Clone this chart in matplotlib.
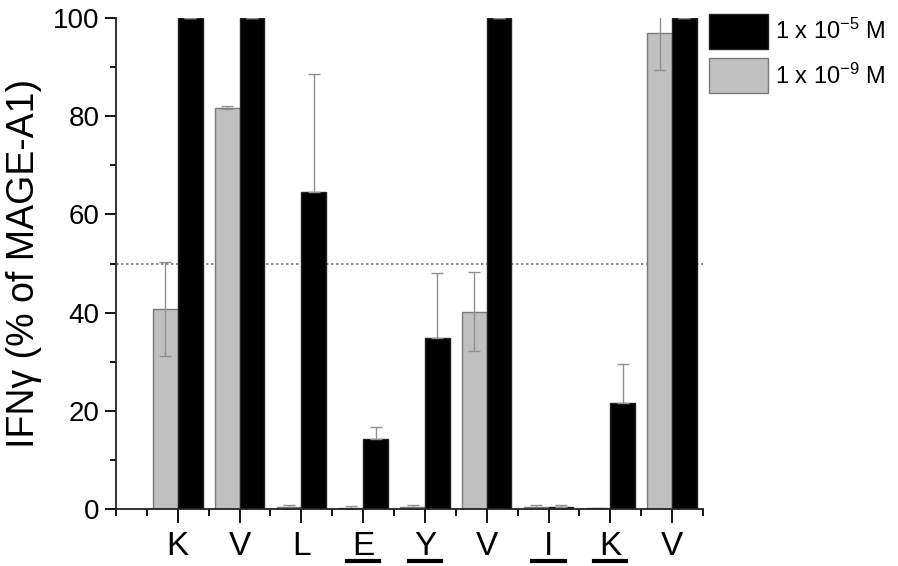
import numpy as np
import matplotlib
matplotlib.use('agg')
from matplotlib import pyplot as plt
from matplotlib.ticker import MultipleLocator

plt.rcParams['font.family'] = ['Liberation Sans', 'DejaVu Sans']
plt.rcParams['mathtext.fontset'] = 'custom'
plt.rcParams['mathtext.rm'] = 'Liberation Sans'
plt.rcParams['mathtext.default'] = 'regular'

residues = ['K', 'V', 'L', 'E', 'Y', 'V', 'I', 'K', 'V']
underlined = [False, False, False, True, True, False, True, True, False]

high_conc = [100, 100, 64.5, 14.2, 34.8, 100, 0.5, 21.6, 100]     # 1 x 10^-5 M
high_err = [0, 0, 24.1, 2.6, 13.2, 0, 0.3, 7.9, 0]
low_conc = [40.8, 81.7, 0.5, 0.3, 0.5, 40.2, 0.5, 0.2, 96.9]      # 1 x 10^-9 M
low_err = [9.6, 0.3, 0.4, 0.3, 0.4, 8.0, 0.3, 0.1, 7.5]

fig = plt.figure(figsize=(8.98, 5.66), dpi=100)
ax = fig.add_axes([116 / 898, 1 - 509 / 566, (703 - 116) / 898, (509 - 18) / 566])

x = np.arange(1, len(residues) + 1)
w = 0.4
err_kw = dict(ecolor='#909090', elinewidth=1.0, capsize=4, capthick=1.0)

ax.axhline(50, color='#777777', lw=1.2, ls=(0, (1.5, 1.5)), zorder=1)

ax.bar(x - w / 2, low_conc, w, color='#c0c0c0', edgecolor='#7a7a7a', lw=1,
       yerr=low_err, error_kw=err_kw, label='1 x 10$^{-9}$ M', zorder=2)
ax.bar(x + w / 2, high_conc, w, color='black', edgecolor='#222222', lw=1,
       yerr=[np.zeros(len(high_err)), high_err], error_kw=err_kw,
       label='1 x 10$^{-5}$ M', zorder=2)

ax.set_xlim(0, 9.5)
ax.set_ylim(0, 100)
ax.spines['top'].set_visible(False)
ax.spines['right'].set_visible(False)
for s in ('left', 'bottom'):
    ax.spines[s].set_linewidth(1.3)
    ax.spines[s].set_color('#222222')

ax.set_xticks(x)
ax.set_xticklabels(residues, fontsize=24)
ax.xaxis.set_minor_locator(MultipleLocator(0.5))
ax.yaxis.set_major_locator(MultipleLocator(20))
ax.yaxis.set_minor_locator(MultipleLocator(10))
ax.tick_params(axis='y', which='major', labelsize=20, length=8, width=1.3, pad=4)
ax.tick_params(axis='y', which='minor', length=4, width=1.3)
ax.tick_params(axis='x', which='major', length=10, width=1.3, pad=6)
ax.tick_params(axis='x', which='minor', length=5, width=1.3)

# underline the substituted residues
trans = ax.get_xaxis_transform()
for xi, u in zip(x, underlined):
    if u:
        ax.plot([xi - 0.26, xi + 0.26], [-0.106, -0.106], color='black', lw=3,
                transform=trans, clip_on=False)

ax.set_ylabel('IFNγ (% of MAGE-A1)', fontsize=27, labelpad=8)

handles, labels = ax.get_legend_handles_labels()
fig.legend(handles[::-1], labels[::-1], loc='upper left',
           bbox_to_anchor=(709 / 898, 1 - 14 / 566), frameon=False,
           fontsize=17, handlelength=2.5, handleheight=1.9,
           handletextpad=0.3, labelspacing=0.4, borderaxespad=0,
           borderpad=0)

plt.savefig('out.png', dpi=100)
plt.close()
